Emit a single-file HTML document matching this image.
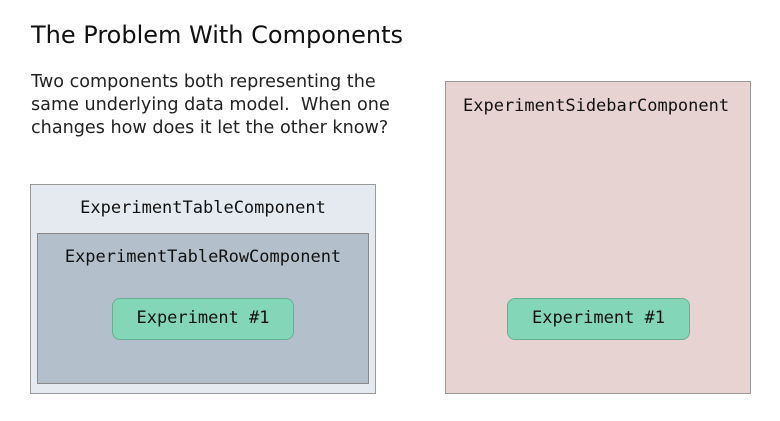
<!DOCTYPE html>
<html><head><style>
body{margin:0;width:780px;height:421px;background:#fff;position:relative;overflow:hidden;font-family:"DejaVu Sans",sans-serif}
.a{position:absolute}
.m{font-family:"DejaVu Sans Mono",monospace;font-size:17px;color:#111;white-space:nowrap}
</style></head><body>
<div class="a" style="left:31px;top:21px;font-size:24px;color:#111">The Problem With Components</div>
<div class="a" style="left:31px;top:71px;font-size:17.6px;line-height:23px;color:#222">Two components both representing the<br>same underlying data model.&nbsp; When one<br>changes how does it let the other know?</div>
<div class="a" style="left:30px;top:184px;width:344px;height:208px;background:#e5eaf1;border:1px solid #999"></div>
<div class="a m" style="left:30px;width:346px;text-align:center;top:198px">ExperimentTableComponent</div>
<div class="a" style="left:37px;top:233px;width:330px;height:149px;background:#b3c0cb;border:1px solid #8a8a8a"></div>
<div class="a m" style="left:37px;width:332px;text-align:center;top:247px">ExperimentTableRowComponent</div>
<div class="a" style="left:112px;top:298px;width:180px;height:40px;background:#84d6b8;border:1px solid #66b090;border-radius:8px"></div>
<div class="a m" style="left:112px;width:182px;text-align:center;top:308px">Experiment #1</div>
<div class="a" style="left:445px;top:81px;width:304px;height:311px;background:#e8d3d3;border:1px solid #999"></div>
<div class="a m" style="left:463px;top:96px">ExperimentSidebarComponent</div>
<div class="a" style="left:507px;top:298px;width:181px;height:40px;background:#84d6b8;border:1px solid #66b090;border-radius:8px"></div>
<div class="a m" style="left:507px;width:183px;text-align:center;top:308px">Experiment #1</div>
</body></html>
